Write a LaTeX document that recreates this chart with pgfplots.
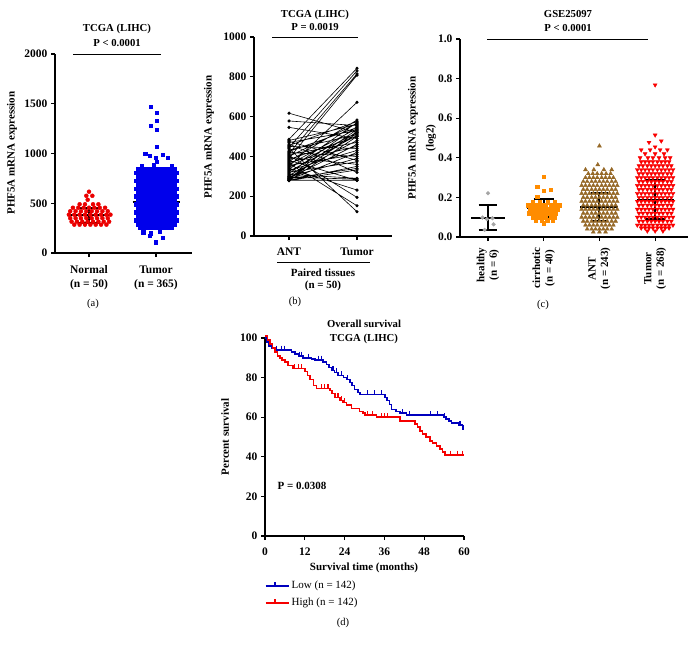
\documentclass[border=0pt]{standalone}
\usepackage{fontspec}
\setmainfont{Liberation Serif}
\usepackage{pgfplots}
\pgfplotsset{compat=1.18}
\definecolor{cred}{RGB}{235,0,0}
\definecolor{cblue}{RGB}{0,0,235}
\definecolor{cgray}{RGB}{165,165,165}
\definecolor{corange}{RGB}{255,140,0}
\definecolor{cbrown}{RGB}{150,105,40}
\definecolor{cred2}{RGB}{250,0,0}
\definecolor{kmblue}{RGB}{0,0,190}
\definecolor{kmred}{RGB}{245,0,0}
\newcommand{\lbl}{\bfseries\fontsize{10.7}{12}\selectfont}
\newcommand{\tkl}{\bfseries\fontsize{11.5}{14}\selectfont}
\pgfplotsset{
  gp/.style={
    scale only axis,
    clip=false,
    anchor=south west,
    axis x line*=bottom,
    axis y line*=left,
    axis line style={line width=1.5pt, -},
    tick style={line width=1.2pt, black},
    tick align=outside,
    major tick length=4pt,
    minor tick num=0,
    ticklabel style={font=\tkl},
    /pgf/number format/assume math mode=true,
    /pgf/number format/1000 sep={},
    scaled ticks=false,
  },
  bar/.style={black, line width=1.9pt, unbounded coords=jump, forget plot},
}
\begin{document}
\begin{tikzpicture}
\path[use as bounding box] (0,0) rectangle (691pt,-646pt);
% ================= panel a =================
\begin{axis}[gp, at={(55pt,-253pt)}, width=137pt, height=199pt,
  xmin=0.4925, xmax=2.537, ymin=0, ymax=2000,
  xtick={1,2}, xticklabels={{Normal\\(n = 50)},{Tumor\\(n = 365)}},
  xticklabel style={align=center, font=\bfseries\fontsize{11.5}{14}\selectfont, yshift=-5pt},
  ytick={0,500,1000,1500,2000}]
\addplot[only marks, mark=*, mark size=2pt, color=cred] coordinates {
(1.00,616)(0.96,575)(1.05,575)(0.98,535)
(0.86,490)(0.94,490)(1.06,490)(1.14,490)
(0.76,455)(0.84,455)(0.92,455)(1.00,455)(1.08,455)(1.16,455)(1.24,455)
(0.72,420)(0.80,420)(0.88,420)(0.96,420)(1.04,420)(1.12,420)(1.20,420)(1.28,420)
(0.70,385)(0.78,385)(0.86,385)(0.94,385)(1.02,385)(1.10,385)(1.18,385)(1.26,385)(1.32,385)
(0.72,350)(0.80,350)(0.88,350)(0.96,350)(1.04,350)(1.12,350)(1.20,350)(1.28,350)
(0.74,315)(0.82,315)(0.90,315)(0.98,315)(1.06,315)(1.14,315)(1.22,315)(1.30,315)
(0.78,285)(0.86,285)(0.94,285)(1.02,285)(1.10,285)(1.18,285)(1.26,285)
};
\addplot[only marks, mark=square*, mark size=1.6pt, color=cblue] coordinates {
(1.92,1467)(2.01,1407)(2.01,1327)(1.92,1276)(2.01,1236)(2.01,1065)
(1.84,1000)(1.91,975)(2.00,960)(2.10,985)(2.18,958)(2.01,915)
(1.79,880)(1.97,885)(2.24,875)
(1.73,850)(1.79,850)(1.85,850)(1.91,850)(1.97,850)(2.03,850)(2.09,850)(2.15,850)(2.21,850)(2.27,850)
(1.70,810)(1.76,810)(1.82,810)(1.88,810)(1.94,810)(2.00,810)(2.06,810)(2.12,810)(2.18,810)(2.24,810)(2.30,810)
(1.73,770)(1.79,770)(1.85,770)(1.91,770)(1.97,770)(2.03,770)(2.09,770)(2.15,770)(2.21,770)(2.27,770)
(1.70,730)(1.76,730)(1.82,730)(1.88,730)(1.94,730)(2.00,730)(2.06,730)(2.12,730)(2.18,730)(2.24,730)(2.30,730)
(1.73,690)(1.79,690)(1.85,690)(1.91,690)(1.97,690)(2.03,690)(2.09,690)(2.15,690)(2.21,690)(2.27,690)
(1.70,650)(1.76,650)(1.82,650)(1.88,650)(1.94,650)(2.00,650)(2.06,650)(2.12,650)(2.18,650)(2.24,650)(2.30,650)
(1.73,610)(1.79,610)(1.85,610)(1.91,610)(1.97,610)(2.03,610)(2.09,610)(2.15,610)(2.21,610)(2.27,610)
(1.70,570)(1.76,570)(1.82,570)(1.88,570)(1.94,570)(2.00,570)(2.06,570)(2.12,570)(2.18,570)(2.24,570)(2.30,570)
(1.73,530)(1.79,530)(1.85,530)(1.91,530)(1.97,530)(2.03,530)(2.09,530)(2.15,530)(2.21,530)(2.27,530)
(1.70,490)(1.76,490)(1.82,490)(1.88,490)(1.94,490)(2.00,490)(2.06,490)(2.12,490)(2.18,490)(2.24,490)(2.30,490)
(1.73,450)(1.79,450)(1.85,450)(1.91,450)(1.97,450)(2.03,450)(2.09,450)(2.15,450)(2.21,450)(2.27,450)
(1.70,410)(1.76,410)(1.82,410)(1.88,410)(1.94,410)(2.00,410)(2.06,410)(2.12,410)(2.18,410)(2.24,410)(2.30,410)
(1.73,370)(1.79,370)(1.85,370)(1.91,370)(1.97,370)(2.03,370)(2.09,370)(2.15,370)(2.21,370)(2.27,370)
(1.70,330)(1.76,330)(1.82,330)(1.88,330)(1.94,330)(2.00,330)(2.06,330)(2.12,330)(2.18,330)(2.24,330)(2.30,330)
(1.73,290)(1.79,290)(1.85,290)(1.91,290)(1.97,290)(2.03,290)(2.09,290)(2.15,290)(2.21,290)(2.27,290)
(1.76,255)(1.82,255)(1.88,255)(1.94,255)(2.00,255)(2.06,255)(2.12,255)(2.18,255)(2.24,255)
(1.81,210)(1.92,200)(2.06,212)(1.90,170)(2.10,150)(2.00,108)
};
\addplot[bar] coordinates {(0.67,382)(1.33,382)(1,nan)(1,305)(1,455)(1,nan)(0.83,305)(1.17,305)(1,nan)(0.83,455)(1.17,455)};
\addplot[bar] coordinates {(1.65,516)(2.36,516)(2,nan)(2,325)(2,707)(2,nan)(1.83,325)(2.17,325)(2,nan)(1.83,707)(2.17,707)};
\end{axis}
% ================= panel b =================
\begin{axis}[gp, at={(254pt,-236pt)}, width=138pt, height=199pt,
  xmin=0.485, xmax=2.515, ymin=0, ymax=1000,
  xtick={1,2}, xticklabels={ANT,Tumor},
  xticklabel style={yshift=-4pt},
  ytick={0,200,400,600,800,1000}]
\addplot[black, line width=0.6pt, mark=*, mark size=1.3pt, unbounded coords=jump] coordinates {
(1,617)(2,520)(1,nan)(1,578)(2,555)(1,nan)(1,546)(2,490)(1,nan)(1,486)(2,843)(1,nan)
(1,480)(2,560)(1,nan)(1,475)(2,380)(1,nan)(1,470)(2,530)(1,nan)(1,462)(2,320)(1,nan)
(1,455)(2,575)(1,nan)(1,450)(2,440)(1,nan)(1,445)(2,830)(1,nan)(1,440)(2,122)(1,nan)
(1,432)(2,510)(1,nan)(1,425)(2,545)(1,nan)(1,420)(2,400)(1,nan)(1,415)(2,815)(1,nan)
(1,410)(2,470)(1,nan)(1,405)(2,194)(1,nan)(1,400)(2,565)(1,nan)(1,395)(2,360)(1,nan)
(1,390)(2,808)(1,nan)(1,385)(2,500)(1,nan)(1,380)(2,280)(1,nan)(1,375)(2,583)(1,nan)
(1,370)(2,450)(1,nan)(1,365)(2,152)(1,nan)(1,360)(2,540)(1,nan)(1,355)(2,410)(1,nan)
(1,350)(2,672)(1,nan)(1,345)(2,520)(1,nan)(1,340)(2,231)(1,nan)(1,335)(2,570)(1,nan)
(1,330)(2,430)(1,nan)(1,325)(2,505)(1,nan)(1,320)(2,373)(1,nan)(1,315)(2,550)(1,nan)
(1,310)(2,290)(1,nan)(1,305)(2,480)(1,nan)(1,300)(2,535)(1,nan)(1,298)(2,390)(1,nan)
(1,295)(2,286)(1,nan)(1,292)(2,515)(1,nan)(1,290)(2,460)(1,nan)(1,288)(2,340)(1,nan)
(1,285)(2,525)(1,nan)(1,283)(2,420)(1,nan)(1,280)(2,280)(1,nan)(1,280)(2,350)(1,nan)
(1,279)(2,332)(1,nan)(1,278)(2,500)
};
\end{axis}
% ================= panel c =================
\begin{axis}[gp, at={(460pt,-237pt)}, width=228pt, height=198pt,
  xmin=0.497, xmax=4.59, ymin=0, ymax=1,
  xtick={1,2,3,4},
  xticklabels={{healthy\\(n = 6)},{cirrhotic\\(n = 40)},{ANT\\(n = 243)},{Tumor\\(n = 268)}},
  xticklabel style={yshift=-3pt, rotate=90, anchor=east, align=center, font=\bfseries\fontsize{11}{12.5}\selectfont},
  ytick={0,0.2,0.4,0.6,0.8,1.0},
  yticklabel style={/pgf/number format/fixed, /pgf/number format/fixed zerofill, /pgf/number format/precision=1}]
\addplot[only marks, mark=*, mark size=1.9pt, color=cgray] coordinates {
(1.00,0.221)(0.90,0.098)(0.98,0.090)(1.08,0.095)(1.10,0.064)(0.94,0.036)};
\addplot[only marks, mark=square*, mark size=1.7pt, color=corange] coordinates {
(2.00,0.305)(1.88,0.255)(2.00,0.235)(2.12,0.24)(1.88,0.205)
(1.80,0.175)(1.93,0.175)(2.07,0.175)(2.20,0.175)
(1.72,0.16)(1.80,0.16)(1.88,0.16)(1.96,0.16)(2.04,0.16)(2.12,0.16)(2.20,0.16)(2.28,0.16)
(1.76,0.14)(1.84,0.14)(1.92,0.14)(2.00,0.14)(2.08,0.14)(2.16,0.14)(2.24,0.14)
(1.74,0.12)(1.82,0.12)(1.90,0.12)(1.98,0.12)(2.06,0.12)(2.14,0.12)(2.22,0.12)
(1.80,0.10)(1.88,0.10)(1.96,0.10)(2.04,0.10)(2.12,0.10)(2.20,0.10)
(1.86,0.085)(1.96,0.085)(2.06,0.085)(2.16,0.085)
(2.00,0.069)};
\addplot[only marks, mark=triangle*, mark size=2.3pt, color=cbrown] coordinates {
(3.00,0.46)(2.97,0.365)
(2.75,0.34)(2.90,0.34)(3.08,0.34)(3.22,0.34)
(2.80,0.32)(2.88,0.32)(2.96,0.32)(3.04,0.32)(3.12,0.32)(3.20,0.32)
(2.75,0.30)(2.82,0.30)(2.89,0.30)(2.96,0.30)(3.04,0.30)(3.11,0.30)(3.18,0.30)(3.25,0.30)
(2.71,0.28)(2.78,0.28)(2.86,0.28)(2.93,0.28)(3.00,0.28)(3.07,0.28)(3.14,0.28)(3.22,0.28)(3.29,0.28)
(2.68,0.26)(2.75,0.26)(2.82,0.26)(2.89,0.26)(2.96,0.26)(3.04,0.26)(3.11,0.26)(3.18,0.26)(3.25,0.26)(3.32,0.26)
(2.71,0.24)(2.78,0.24)(2.86,0.24)(2.93,0.24)(3.00,0.24)(3.07,0.24)(3.14,0.24)(3.22,0.24)(3.29,0.24)
(2.68,0.22)(2.75,0.22)(2.82,0.22)(2.89,0.22)(2.96,0.22)(3.04,0.22)(3.11,0.22)(3.18,0.22)(3.25,0.22)(3.32,0.22)
(2.71,0.20)(2.78,0.20)(2.86,0.20)(2.93,0.20)(3.00,0.20)(3.07,0.20)(3.14,0.20)(3.22,0.20)(3.29,0.20)
(2.68,0.18)(2.75,0.18)(2.82,0.18)(2.89,0.18)(2.96,0.18)(3.04,0.18)(3.11,0.18)(3.18,0.18)(3.25,0.18)(3.32,0.18)
(2.71,0.16)(2.78,0.16)(2.86,0.16)(2.93,0.16)(3.00,0.16)(3.07,0.16)(3.14,0.16)(3.22,0.16)(3.29,0.16)
(2.68,0.14)(2.75,0.14)(2.82,0.14)(2.89,0.14)(2.96,0.14)(3.04,0.14)(3.11,0.14)(3.18,0.14)(3.25,0.14)(3.32,0.14)
(2.71,0.12)(2.78,0.12)(2.86,0.12)(2.93,0.12)(3.00,0.12)(3.07,0.12)(3.14,0.12)(3.22,0.12)(3.29,0.12)
(2.68,0.10)(2.75,0.10)(2.82,0.10)(2.89,0.10)(2.96,0.10)(3.04,0.10)(3.11,0.10)(3.18,0.10)(3.25,0.10)(3.32,0.10)
(2.71,0.08)(2.78,0.08)(2.86,0.08)(2.93,0.08)(3.00,0.08)(3.07,0.08)(3.14,0.08)(3.22,0.08)(3.29,0.08)
(2.75,0.06)(2.82,0.06)(2.89,0.06)(2.96,0.06)(3.04,0.06)(3.11,0.06)(3.18,0.06)(3.25,0.06)
(2.78,0.04)(2.86,0.04)(2.93,0.04)(3.00,0.04)(3.07,0.04)(3.14,0.04)(3.22,0.04)
(2.89,0.025)(3.00,0.025)(3.11,0.025)};
\addplot[only marks, mark=triangle*, mark size=2.3pt, color=cred2, mark options={rotate=180}] coordinates {
(4.00,0.768)(4.00,0.515)(3.89,0.478)(4.11,0.485)(4.00,0.455)
(3.75,0.44)(3.91,0.44)(4.09,0.44)(4.22,0.44)
(3.82,0.42)(4.00,0.42)(4.16,0.42)
(3.73,0.40)(3.87,0.40)(3.96,0.40)(4.07,0.40)(4.18,0.40)(4.27,0.40)
(3.75,0.38)(3.82,0.38)(3.89,0.38)(3.96,0.38)(4.04,0.38)(4.11,0.38)(4.18,0.38)(4.25,0.38)
(3.71,0.36)(3.78,0.36)(3.86,0.36)(3.93,0.36)(4.00,0.36)(4.07,0.36)(4.14,0.36)(4.22,0.36)(4.29,0.36)
(3.68,0.34)(3.75,0.34)(3.82,0.34)(3.89,0.34)(3.96,0.34)(4.04,0.34)(4.11,0.34)(4.18,0.34)(4.25,0.34)(4.32,0.34)
(3.71,0.32)(3.78,0.32)(3.86,0.32)(3.93,0.32)(4.00,0.32)(4.07,0.32)(4.14,0.32)(4.22,0.32)(4.29,0.32)
(3.68,0.30)(3.75,0.30)(3.82,0.30)(3.89,0.30)(3.96,0.30)(4.04,0.30)(4.11,0.30)(4.18,0.30)(4.25,0.30)(4.32,0.30)
(3.71,0.28)(3.78,0.28)(3.86,0.28)(3.93,0.28)(4.00,0.28)(4.07,0.28)(4.14,0.28)(4.22,0.28)(4.29,0.28)
(3.68,0.26)(3.75,0.26)(3.82,0.26)(3.89,0.26)(3.96,0.26)(4.04,0.26)(4.11,0.26)(4.18,0.26)(4.25,0.26)(4.32,0.26)
(3.71,0.24)(3.78,0.24)(3.86,0.24)(3.93,0.24)(4.00,0.24)(4.07,0.24)(4.14,0.24)(4.22,0.24)(4.29,0.24)
(3.68,0.22)(3.75,0.22)(3.82,0.22)(3.89,0.22)(3.96,0.22)(4.04,0.22)(4.11,0.22)(4.18,0.22)(4.25,0.22)(4.32,0.22)
(3.71,0.20)(3.78,0.20)(3.86,0.20)(3.93,0.20)(4.00,0.20)(4.07,0.20)(4.14,0.20)(4.22,0.20)(4.29,0.20)
(3.68,0.18)(3.75,0.18)(3.82,0.18)(3.89,0.18)(3.96,0.18)(4.04,0.18)(4.11,0.18)(4.18,0.18)(4.25,0.18)(4.32,0.18)
(3.71,0.16)(3.78,0.16)(3.86,0.16)(3.93,0.16)(4.00,0.16)(4.07,0.16)(4.14,0.16)(4.22,0.16)(4.29,0.16)
(3.68,0.14)(3.75,0.14)(3.82,0.14)(3.89,0.14)(3.96,0.14)(4.04,0.14)(4.11,0.14)(4.18,0.14)(4.25,0.14)(4.32,0.14)
(3.71,0.12)(3.78,0.12)(3.86,0.12)(3.93,0.12)(4.00,0.12)(4.07,0.12)(4.14,0.12)(4.22,0.12)(4.29,0.12)
(3.68,0.10)(3.75,0.10)(3.82,0.10)(3.89,0.10)(3.96,0.10)(4.04,0.10)(4.11,0.10)(4.18,0.10)(4.25,0.10)(4.32,0.10)
(3.71,0.08)(3.78,0.08)(3.86,0.08)(3.93,0.08)(4.00,0.08)(4.07,0.08)(4.14,0.08)(4.22,0.08)(4.29,0.08)
(3.68,0.06)(3.75,0.06)(3.82,0.06)(3.89,0.06)(3.96,0.06)(4.04,0.06)(4.11,0.06)(4.18,0.06)(4.25,0.06)(4.32,0.06)
(3.75,0.045)(3.82,0.045)(3.89,0.045)(3.96,0.045)(4.04,0.045)(4.11,0.045)(4.18,0.045)(4.25,0.045)
(3.86,0.03)(4.00,0.03)(4.14,0.03)};
\addplot[bar] coordinates {(0.70,0.098)(1.30,0.098)(1,nan)(1,0.035)(1,0.162)(1,nan)(0.83,0.035)(1.17,0.035)(1,nan)(0.83,0.162)(1.17,0.162)};
\addplot[bar] coordinates {(1.70,0.148)(2.30,0.148)(2,nan)(2,0.100)(2,0.193)(2,nan)(1.82,0.100)(2.18,0.100)(2,nan)(1.82,0.193)(2.18,0.193)};
\addplot[bar] coordinates {(2.66,0.152)(3.34,0.152)(3,nan)(3,0.082)(3,0.221)(3,nan)(2.84,0.082)(3.16,0.082)(3,nan)(2.84,0.221)(3.16,0.221)};
\addplot[bar] coordinates {(3.67,0.188)(4.33,0.188)(4,nan)(4,0.090)(4,0.288)(4,nan)(3.82,0.090)(4.18,0.090)(4,nan)(3.82,0.288)(4.18,0.288)};
\end{axis}
% ================= panel d =================
\begin{axis}[gp, at={(265pt,-536pt)}, width=199pt, height=198pt,
  xmin=0, xmax=60, ymin=0, ymax=100,
  xtick={0,12,24,36,48,60}, ytick={0,20,40,60,80,100},
  xticklabel style={yshift=-4pt},
  legend style={at={(axis description cs:0,0)}, anchor=north west, xshift=0pt, yshift=-43pt,
     draw=none, fill=none, font=\fontsize{11}{12}\selectfont, row sep=4pt, inner sep=0pt,
     cells={anchor=west}},
  legend image code/.code={\draw[#1] (0pt,0pt) -- (18pt,0pt); \draw[#1, line width=1.1pt] (9pt,0pt) -- (9pt,4pt); \path (0pt,0pt) -- (23pt,0pt);}]
\addplot[const plot, kmblue, line width=1.5pt, forget plot] coordinates {
(0,100)(0.5,98)(1.2,96)(2,95)(3,94)(8,93)(9,92)(10.2,91)(11.5,90)(14,89.5)(15,89)(17.5,88)
(18.6,86.5)(19.3,85)(20,83.5)(21,82.5)(22,81)(23.6,80)(24.5,79)(25.6,77.5)(26.3,76)(27,74)
(28,72.5)(28.6,71.5)(36.2,70)(36.8,68.5)(37.5,66.5)(38.2,64)(39.5,63)(40.7,62)(42.7,61)
(53.8,60)(54.5,59)(55.5,58)(56.3,57)(58.5,56)(59.6,54)(60,54)};
\addplot[const plot, kmred, line width=1.5pt, forget plot] coordinates {
(0,101)(0.8,99)(1.5,97)(2.3,95)(3,93)(3.7,91)(4.5,90)(5.2,89)(6,88)(7,86)(8.5,84.5)(12,83)
(12.8,81)(13.6,79)(14.6,76)(15.5,74.5)(19.6,73.5)(20.2,72)(21.1,70)(22.6,68.5)(23.5,67.5)
(24.6,66.2)(26.1,64.5)(28.5,63)(29.5,62)(30.1,61)(33.6,60)(40.7,58.2)(45.2,56.5)(46,55)
(46.7,53)(47.5,51.5)(48.5,50)(49.7,48)(50.5,47)(51.7,45.5)(52.7,44)(53.5,42.5)(54.2,41)(60,41)};
\addplot[only marks, mark=|, mark size=2.2pt, kmblue, mark options={line width=1.1pt, yshift=2pt}, forget plot] coordinates {
(3.5,94)(5,94)(6,94)(10.5,91)(11,91)(13,90)(16,89)(17,89)(20.5,83.5)(21.5,82.5)(23,81)(25,79)
(31,71.5)(33,71.5)(35,71.5)(41.5,62)(43.5,61)(50,61)(52,61)(54,60)(58.8,56)(59.8,54)};
\addplot[only marks, mark=|, mark size=2.2pt, kmred, mark options={line width=1.1pt, yshift=2pt}, forget plot] coordinates {
(9,84.5)(10,84.5)(11,84.5)(17,74.5)(18,74.5)(19,74.5)(22,70)(23,68.5)(24,67.5)(31,61)(32.5,61)
(35,60)(36,60)(37,60)(56,41)(58,41)(59.5,41)};
\addlegendimage{kmblue, line width=1.5pt}
\addlegendentry{Low (n = 142)}
\addlegendimage{kmred, line width=1.5pt}
\addlegendentry{High (n = 142)}
\end{axis}
% ================= annotations =================
\node[font=\lbl] at (117pt,-29pt) {TCGA (LIHC)};
\node[font=\lbl] at (117pt,-43pt) {P < 0.0001};
\draw[line width=1pt] (73pt,-54pt) -- (161pt,-54pt);
\node[font=\bfseries\fontsize{11}{12}\selectfont, rotate=90] at (12pt,-153pt) {PHF5A mRNA expression};
\node[font=\fontsize{10.5}{12}\selectfont] at (93pt,-304pt) {(a)};
\node[font=\lbl] at (315pt,-15pt) {TCGA (LIHC)};
\node[font=\lbl] at (315pt,-27pt) {P = 0.0019};
\draw[line width=1pt] (272pt,-37pt) -- (358pt,-37pt);
\draw[line width=0.9pt] (277pt,-262pt) -- (370pt,-262pt);
\node[font=\bfseries\fontsize{11}{12}\selectfont] at (323pt,-273pt) {Paired tissues};
\node[font=\bfseries\fontsize{11}{12}\selectfont] at (323pt,-286pt) {(n = 50)};
\node[font=\bfseries\fontsize{11}{12}\selectfont, rotate=90] at (209pt,-137pt) {PHF5A mRNA expression};
\node[font=\fontsize{10.5}{12}\selectfont] at (295pt,-302pt) {(b)};
\node[font=\lbl] at (568pt,-14pt) {GSE25097};
\node[font=\lbl] at (568pt,-28pt) {P < 0.0001};
\draw[line width=1pt] (487pt,-39pt) -- (648pt,-39pt);
\node[font=\bfseries\fontsize{11}{18}\selectfont, rotate=90, align=center] at (422pt,-138pt) {PHF5A mRNA expression\\(log2)};
\node[font=\fontsize{10.5}{12}\selectfont] at (543pt,-305pt) {(c)};
\node[font=\lbl] at (364pt,-324pt) {Overall survival};
\node[font=\lbl] at (364pt,-339pt) {TCGA (LIHC)};
\node[font=\bfseries\fontsize{11}{12}\selectfont, rotate=90] at (225pt,-437pt) {Percent survival};
\node[font=\bfseries\fontsize{11}{12}\selectfont] at (364pt,-568pt) {Survival time (months)};
\node[font=\bfseries\fontsize{11}{12}\selectfont, anchor=west] at (274pt,-486pt) {P = 0.0308};
\node[font=\fontsize{10.5}{12}\selectfont] at (343pt,-623pt) {(d)};
\end{tikzpicture}
\end{document}
